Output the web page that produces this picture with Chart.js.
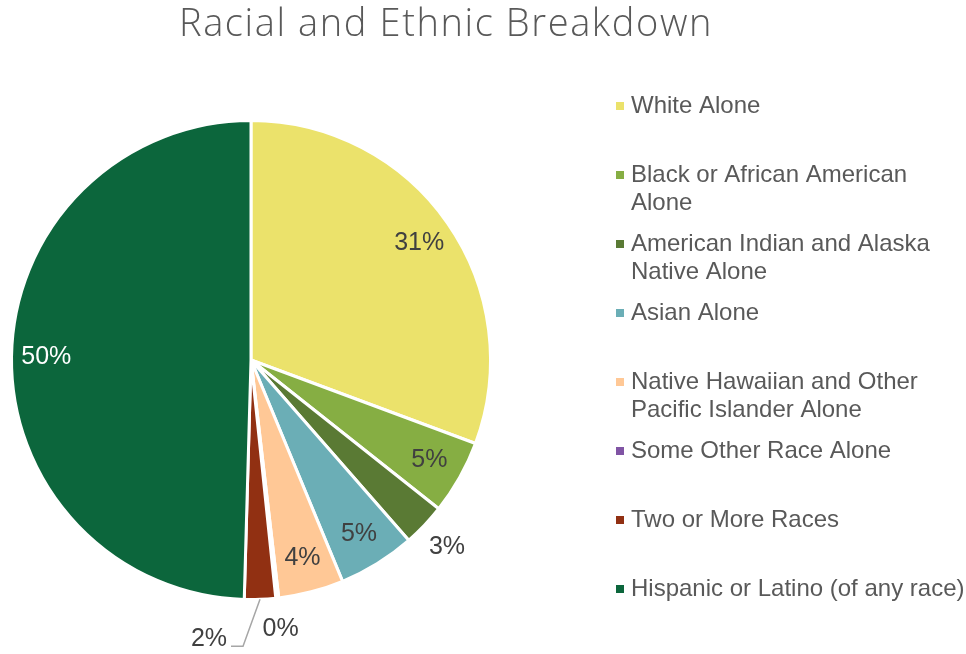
<!DOCTYPE html>
<html>
<head>
<meta charset="utf-8">
<title>Racial and Ethnic Breakdown</title>
<script src="https://cdn.jsdelivr.net/npm/chart.js@4/dist/chart.umd.min.js"></script>
<style>
  html, body { margin: 0; padding: 0; background: #fff; }
  #wrap { width: 966px; height: 654px; position: relative; }
</style>
</head>
<body>
<div id="wrap"><canvas id="chart"></canvas></div>
<script>
'use strict';

const chartTitle = 'Racial and Ethnic Breakdown';
const categories = [
  'White Alone',
  'Black or African American Alone',
  'American Indian and Alaska Native Alone',
  'Asian Alone',
  'Native Hawaiian and Other Pacific Islander Alone',
  'Some Other Race Alone',
  'Two or More Races',
  'Hispanic or Latino (of any race)'
];
// share of population, percent
const shares = [30.7, 5.0, 2.9, 5.2, 4.4, 0.2, 2.1, 49.6];
const sliceColors = ['#EBE26B', '#86AE43', '#5A7A34', '#6BAEB6', '#FFC896', '#8054A4', '#913012', '#0C663C'];

const labelFont = '25px "Liberation Sans", Arial, sans-serif';
const legendFont = '24px "Liberation Sans", Arial, sans-serif';

function pctText(v) {
  return Math.round(v) + '%';
}

// title + legend on the right, drawn straight on the canvas
const sidePlugin = {
  id: 'side',
  afterDraw(chart) {
    const ctx = chart.ctx;
    ctx.save();
    ctx.fillStyle = '#595959';
    ctx.font = '300 38px "Open Sans", sans-serif';
    ctx.letterSpacing = '1.6px';
    ctx.textAlign = 'center';
    ctx.textBaseline = 'alphabetic';
    ctx.fillText(chartTitle, 446, 36);
    ctx.letterSpacing = '0px';

    ctx.font = legendFont;
    ctx.textAlign = 'left';
    categories.forEach((name, i) => {
      const base = 113 + i * 69;
      ctx.fillStyle = sliceColors[i];
      ctx.fillRect(616, base - 11, 8, 8);
      ctx.fillStyle = '#595959';
      // wrap long names
      const words = name.split(' ');
      let line = '';
      let y = base;
      words.forEach(w => {
        const test = line ? line + ' ' + w : w;
        if (line && ctx.measureText(test).width > 340) {
          ctx.fillText(line, 631, y);
          line = w;
          y += 28;
        } else {
          line = test;
        }
      });
      ctx.fillText(line, 631, y);
    });
    ctx.restore();
  }
};

// percentage labels on / beside each slice
const pctPlugin = {
  id: 'pct',
  afterDatasetsDraw(chart) {
    const ctx = chart.ctx;
    const arcs = chart.getDatasetMeta(0).data;
    ctx.save();
    ctx.font = labelFont;
    ctx.textBaseline = 'middle';
    arcs.forEach((arc, i) => {
      const v = shares[i];
      const mid = (arc.startAngle + arc.endAngle) / 2;
      const R = arc.outerRadius;
      const cos = Math.cos(mid), sin = Math.sin(mid);
      if (i === 6) {
        // pulled out to the left with a leader line
        const x0 = arc.x + R * cos, y0 = arc.y + R * sin;
        const x1 = x0 - 17, y1 = y0 + 47;
        const x2 = x1 - 12;
        ctx.strokeStyle = '#A6A6A6';
        ctx.lineWidth = 1.5;
        ctx.beginPath();
        ctx.moveTo(x0, y0);
        ctx.lineTo(x1, y1);
        ctx.lineTo(x2, y1);
        ctx.stroke();
        ctx.fillStyle = '#404040';
        ctx.textAlign = 'right';
        ctx.fillText(pctText(v), x2 - 4, y1 - 7);
        return;
      }
      const outside = v < 3.5;
      const r = outside ? R * 1.13 : R * 0.855;
      ctx.textAlign = 'center';
      ctx.fillStyle = (i === 7) ? '#FFFFFF' : '#404040';
      ctx.fillText(pctText(v), arc.x + r * cos, arc.y + r * sin);
    });
    ctx.restore();
  }
};

const canvasEl = document.getElementById('chart');

new Chart(canvasEl, {
  type: 'pie',
  data: {
    labels: categories,
    datasets: [{
      data: shares,
      backgroundColor: sliceColors,
      borderColor: '#FFFFFF',
      borderWidth: 3
    }]
  },
  options: {
    responsive: true,
    maintainAspectRatio: false,
    animation: false,
    layout: {
      padding: { left: 10, top: 118, right: 474, bottom: 52 }
    },
    plugins: {
      legend: { display: false },
      title: { display: false },
      tooltip: { enabled: false }
    }
  },
  plugins: [sidePlugin, pctPlugin]
});
</script>
</body>
</html>
